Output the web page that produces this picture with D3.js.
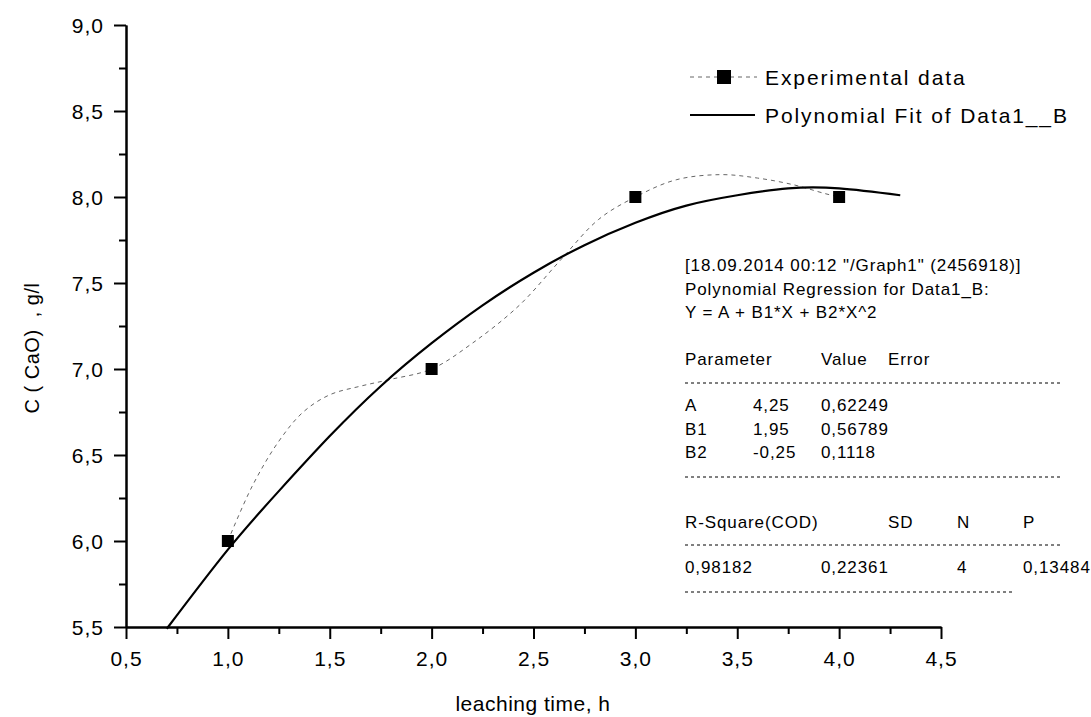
<!DOCTYPE html>
<html lang="en">
<head>
    <meta charset="UTF-8">
    <title>CaO leaching</title>
    <script src="https://cdn.jsdelivr.net/npm/d3@7/dist/d3.min.js"></script>
</head>
<style>
    body{
        margin:0;
        background:#fff;
    }
    svg text{
        font-family:"Liberation Sans", Arial, sans-serif;
        fill:#000;
    }
</style>
<body>
<div id="chart"></div>
<script>
    // experimental points
    var expX = [1, 2, 3, 4],
        expY = [6.0, 7.0, 8.0, 8.0];

    // dashed connecting curve
    var smoothX = [1.0, 1.12, 1.25, 1.37, 1.5, 1.65, 1.8, 2.0, 2.2, 2.43, 2.63, 2.82, 3.0, 3.2, 3.42, 3.6, 3.78, 3.93, 4.0],
        smoothY = [6.0, 6.32, 6.58, 6.75, 6.85, 6.9, 6.94, 7.0, 7.15, 7.37, 7.63, 7.87, 8.0, 8.1, 8.13, 8.11, 8.07, 8.02, 8.0];

    // polynomial fit line
    var fitX = [0.7, 1.0, 1.25, 1.5, 1.75, 2.0, 2.25, 2.5, 2.75, 3.0, 3.25, 3.5, 3.75, 4.0, 4.3],
        fitY = [5.49, 5.95, 6.29, 6.61, 6.9, 7.15, 7.37, 7.56, 7.72, 7.85, 7.95, 8.01, 8.05, 8.05, 8.01];

    var xTicks = [0.5, 1.0, 1.5, 2.0, 2.5, 3.0, 3.5, 4.0, 4.5],
        yTicks = [5.5, 6.0, 6.5, 7.0, 7.5, 8.0, 8.5, 9.0];

    var legendLabels = ["Experimental data", "Polynomial Fit of Data1__B"];

    var reportHead = [
        '[18.09.2014 00:12 "/Graph1" (2456918)]',
        'Polynomial Regression for Data1_B:',
        'Y = A + B1*X + B2*X^2'
    ];
    var paramHead = ["Parameter", "Value", "Error"];
    var paramRows = [
        ["A", "4,25", "0,62249"],
        ["B1", "1,95", "0,56789"],
        ["B2", "-0,25", "0,1118"]
    ];
    var statHead = ["R-Square(COD)", "SD", "N", "P"];
    var statRow = ["0,98182", "0,22361", "4", "0,13484"];

    var W = 1091, H = 717;
    var svg = d3.select("#chart").append("svg")
        .attr("width", W)
        .attr("height", H);

    var x = d3.scaleLinear().domain([0.5, 4.5]).range([126, 941]);
    var y = d3.scaleLinear().domain([5.5, 9.0]).range([627, 25]);

    var comma = function(v){ return d3.format(".1f")(v).replace(".", ","); };

    // axes
    var minorX = d3.range(0.5, 4.51, 0.25).filter(function(v){ return xTicks.indexOf(v) < 0; });
    var minorY = d3.range(5.5, 9.01, 0.25).filter(function(v){ return yTicks.indexOf(v) < 0; });

    var gx = svg.append("g").attr("transform", "translate(0," + y(5.5) + ")");
    gx.call(d3.axisBottom(x).tickValues(xTicks).tickFormat(comma).tickSize(12).tickSizeOuter(0).tickPadding(12));
    gx.append("g").call(d3.axisBottom(x).tickValues(minorX).tickFormat("").tickSize(7).tickSizeOuter(0));

    var gy = svg.append("g").attr("transform", "translate(" + x(0.5) + ",0)");
    gy.call(d3.axisLeft(y).tickValues(yTicks).tickFormat(comma).tickSize(12).tickSizeOuter(0).tickPadding(10));
    gy.append("g").call(d3.axisLeft(y).tickValues(minorY).tickFormat("").tickSize(7).tickSizeOuter(0));

    svg.selectAll(".domain").attr("stroke", "#000").attr("stroke-width", 2);
    svg.selectAll(".tick line").attr("stroke", "#000").attr("stroke-width", 2);
    svg.selectAll(".tick text")
        .style("font-size", "21px")
        .style("letter-spacing", "1px")
        .style("font-family", "'Liberation Sans', Arial, sans-serif");
    gy.selectAll(".tick text").attr("dy", "0.35em");

    // axis titles
    svg.append("text")
        .attr("x", 533).attr("y", 711)
        .attr("text-anchor", "middle")
        .style("font-size", "21px")
        .style("letter-spacing", "0.5px")
        .text("leaching time, h");

    svg.append("text")
        .attr("transform", "translate(39,348) rotate(-90)")
        .attr("text-anchor", "middle")
        .style("font-size", "20px")
        .style("letter-spacing", "0.5px")
        .style("white-space", "pre")
        .text("C ( CaO)  , g/l");

    // dashed connection
    var smoothPts = smoothX.map(function(v, i){ return [v, smoothY[i]]; });
    svg.append("path")
        .datum(smoothPts)
        .attr("d", d3.line().x(function(d){ return x(d[0]); }).y(function(d){ return y(d[1]); }).curve(d3.curveCatmullRom))
        .attr("fill", "none")
        .attr("stroke", "#666")
        .attr("stroke-width", 1)
        .attr("stroke-dasharray", "4,4");

    // fit line
    var fitPts = fitX.map(function(v, i){ return [v, fitY[i]]; });
    svg.append("path")
        .datum(fitPts)
        .attr("d", d3.line().x(function(d){ return x(d[0]); }).y(function(d){ return y(d[1]); }).curve(d3.curveNatural))
        .attr("fill", "none")
        .attr("stroke", "#000")
        .attr("stroke-width", 2.2);

    // markers
    var sq = 12;
    svg.selectAll(".pt")
        .data(expX.map(function(v, i){ return [v, expY[i]]; }))
        .enter().append("rect")
        .attr("class", "pt")
        .attr("x", function(d){ return x(d[0]) - sq / 2; })
        .attr("y", function(d){ return y(d[1]) - sq / 2; })
        .attr("width", sq).attr("height", sq)
        .attr("fill", "#000");

    // legend
    var leg = svg.append("g");
    leg.append("line")
        .attr("x1", 690).attr("x2", 757).attr("y1", 77).attr("y2", 77)
        .attr("stroke", "#666").attr("stroke-dasharray", "4,4");
    leg.append("rect")
        .attr("x", 717).attr("y", 70).attr("width", 14).attr("height", 14)
        .attr("fill", "#000");
    leg.append("line")
        .attr("x1", 690).attr("x2", 755).attr("y1", 115).attr("y2", 115)
        .attr("stroke", "#000").attr("stroke-width", 2);
    leg.selectAll(".lt")
        .data(legendLabels)
        .enter().append("text")
        .attr("class", "lt")
        .attr("x", 765)
        .attr("y", function(d, i){ return 85 + i * 38; })
        .style("font-size", "21px")
        .style("letter-spacing", "1.9px")
        .text(function(d){ return d; });

    // regression report
    var rep = svg.append("g").style("font-size", "17px").style("letter-spacing", "0.9px");
    var colP = [685, 753, 821, 888],
        colH = [685, 821, 888],
        colS = [685, 888, 957, 1023],
        colR = [685, 821, 957, 1023];

    rep.selectAll(".rh")
        .data(reportHead)
        .enter().append("text")
        .attr("x", 685)
        .attr("y", function(d, i){ return 271 + i * 23.5; })
        .style("white-space", "pre")
        .text(function(d){ return d; });

    paramHead.forEach(function(t, i){
        rep.append("text").attr("x", colH[i]).attr("y", 365).text(t);
    });
    paramRows.forEach(function(row, r){
        row.forEach(function(t, i){
            rep.append("text").attr("x", colP[i]).attr("y", 411 + r * 23.5).text(t);
        });
    });
    statHead.forEach(function(t, i){
        rep.append("text").attr("x", colS[i]).attr("y", 528).text(t);
    });
    statRow.forEach(function(t, i){
        rep.append("text").attr("x", colR[i]).attr("y", 573).text(t);
    });

    var rules = [[383, 1063], [477, 1063], [545, 1063], [592, 1013]];
    rep.selectAll(".rule")
        .data(rules)
        .enter().append("line")
        .attr("x1", 685).attr("x2", function(d){ return d[1]; })
        .attr("y1", function(d){ return d[0]; }).attr("y2", function(d){ return d[0]; })
        .attr("stroke", "#000").attr("stroke-width", 1)
        .attr("stroke-dasharray", "3,3");
</script>
</body>
</html>
